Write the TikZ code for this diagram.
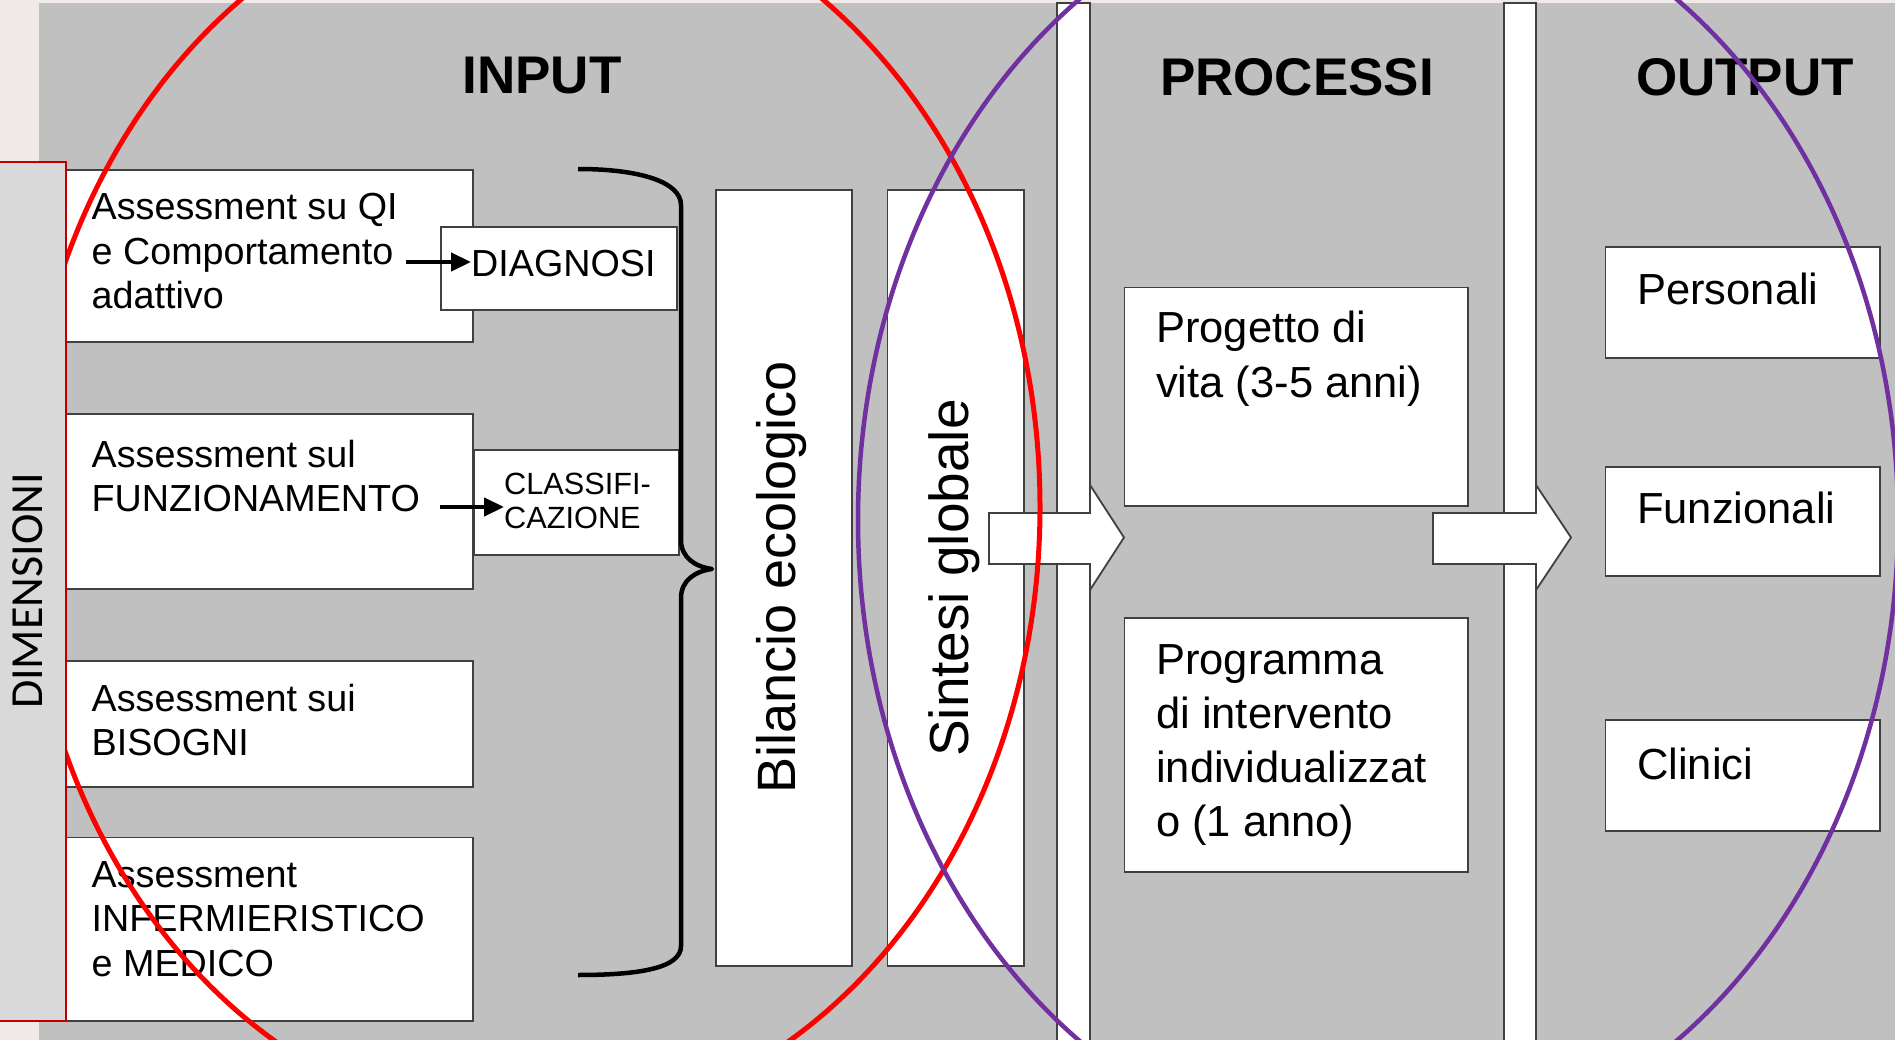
\documentclass[tikz,border=0pt]{standalone}
\usepackage{fontspec}
\setmainfont{Liberation Sans}
\newfontfamily\calfont{Carlito}
\usetikzlibrary{fit,arrows.meta}
\definecolor{bggray}{HTML}{C0C0C0}
\definecolor{edge}{HTML}{404040}
\definecolor{dimfill}{HTML}{D9D9D9}
\definecolor{dimred}{HTML}{C00000}
\definecolor{slide}{HTML}{F2E9E9}
\definecolor{violetline}{HTML}{7030A0}
\newcommand\fsz[2]{\fontsize{#1}{#2}\selectfont}
\newcommand\mlines[1]{\begin{tabular}[t]{@{}l@{}}#1\end{tabular}}
\begin{document}
\begin{tikzpicture}[x=1pt,y=-1pt,
  boxst/.style={draw=edge, fill=white, line width=1.8pt, inner sep=0pt},
  barst/.style={draw=edge, fill=white, line width=1.5pt, inner sep=0pt},
  txt/.style={inner sep=0pt, anchor=base west, text=black},
  rtxt/.style={inner sep=0pt, anchor=base, rotate=90, text=black},
  headst/.style={inner sep=0pt, anchor=base, text=black, font=\bfseries\fsz{53}{60}},
  smallarrow/.style={line width=4.5pt, -{Triangle[length=20pt,width=18pt]}},
  bracest/.style={line width=4.5pt, black, line join=round},
  intext/.style={font=\fsz{37.7}{44.5}},
  bigtext/.style={font=\fsz{43.5}{54.5}}]
\useasboundingbox (0,0) rectangle (1895,1040);
\begin{scope}
\clip (0,0) rectangle (1895,1040);
\fill[slide] (0,0) rectangle (1895,1040);
\fill[bggray] (39,3) rectangle (1895,1045);

% vertical bars
\node[barst, fit={(1057,3)(1090,1046)}] (bar1) {};
\node[barst, fit={(1504,3)(1536,1046)}] (bar2) {};

% headings
\node[headst] (hin) at (542,94) {INPUT};
\node[headst] (hpr) at (1297,96) {PROCESSI};
\node[headst] (hout) at (1745,96) {OUTPUT};

% input boxes
\node[boxst, fit={(66,170)(473,342)}] (b1) {};
\node[boxst, fit={(441,227)(677,310)}] (diag) {};
\node[boxst, fit={(66,414)(473,589)}] (b2) {};
\node[boxst, fit={(474,450)(679,555)}] (clas) {};
\node[boxst, fit={(66,661)(473,787)}] (b3) {};
\node[boxst, fit={(66,837.5)(473,1021)}] (b4) {};
\node[boxst, fit={(716,190)(852,966)}] (bil) {};
\node[boxst, fit={(887.5,190)(1024,966)}] (sin) {};

% process boxes
\node[boxst, fit={(1124.5,287.5)(1468,506)}] (prog) {};
\node[boxst, fit={(1124.5,618)(1468,872)}] (progr) {};

% output boxes
\node[boxst, fit={(1605.5,247)(1880,358)}] (pers) {};
\node[boxst, fit={(1605.5,466.6)(1880,576)}] (funz) {};
\node[boxst, fit={(1605.5,720)(1880,830.6)}] (clin) {};

% block arrows
\draw[boxst] (989,513) -- (1090,513) -- (1090,485) -- (1124,537.5) -- (1090,590) -- (1090,564) -- (989,564) -- cycle;
\draw[boxst] (1433,513) -- (1536,513) -- (1536,485) -- (1571,537.5) -- (1536,590) -- (1536,564) -- (1433,564) -- cycle;

% texts
\node[txt, intext] (t1) at (91.5,220) {\mlines{Assessment su QI\\e Comportamento\\adattivo}};
\node[txt, intext] (dtext) at (471,277) {DIAGNOSI};
\node[txt, intext] (t2) at (91.5,467) {\mlines{Assessment sul\\FUNZIONAMENTO}};
\node[txt, font=\fsz{30.7}{34}] (ctext) at (504,494) {\mlines{CLASSIFI-\\CAZIONE}};
\node[txt, intext] (t3) at (91.5,711) {\mlines{Assessment sui\\BISOGNI}};
\node[txt, intext] (t4) at (91.5,887) {\mlines{Assessment\\INFERMIERISTICO\\e MEDICO}};
\node[rtxt, font=\fsz{54}{60}] (btext) at (795,577) {Bilancio ecologico};
\node[rtxt, font=\fsz{55}{60}] (stext) at (968,578) {Sintesi globale};
\node[txt, bigtext] (ptext) at (1156,343) {\mlines{Progetto di\\vita (3-5 anni)}};
\node[txt, font=\fsz{43.5}{54}] (pgtext) at (1156,674) {\mlines{Programma\\di intervento\\individualizzat\\o (1 anno)}};
\node[txt, bigtext] (perstext) at (1637,305) {Personali};
\node[txt, bigtext] (funztext) at (1637,523) {Funzionali};
\node[txt, bigtext] (clintext) at (1637,779) {Clinici};

% small arrows
\coordinate (a1s) at (406,262);
\coordinate (a1e) at (471,262);
\coordinate (a2s) at (440,507);
\coordinate (a2e) at (504,507);
\draw[smallarrow] (a1s) -- (a1e);
\draw[smallarrow] (a2s) -- (a2e);

% brace
\draw[bracest] (578,169) .. controls (640,169) and (681,182) .. (681,205)
  -- (681,540) .. controls (681,558) and (696,567) .. (712,569)
  .. controls (696,571) and (681,580) .. (681,598)
  -- (681,946) .. controls (681,968) and (640,975) .. (578,975);

% ellipses
\draw[red, line width=5pt] (532,507) ellipse [x radius=508pt, y radius=619pt];
\draw[violetline, line width=4.5pt] (1378,520) ellipse [x radius=520pt, y radius=636pt];

% dimension box on top
\node[fill=dimfill, draw=dimred, line width=1.5pt, inner sep=0pt, fit={(-5,162)(66,1021)}] (dim) {};
\node[rtxt, font=\calfont\fsz{46}{50}] (dimtext) at (42,591) {DIMENSIONI};
\end{scope}
\end{tikzpicture}
\end{document}
